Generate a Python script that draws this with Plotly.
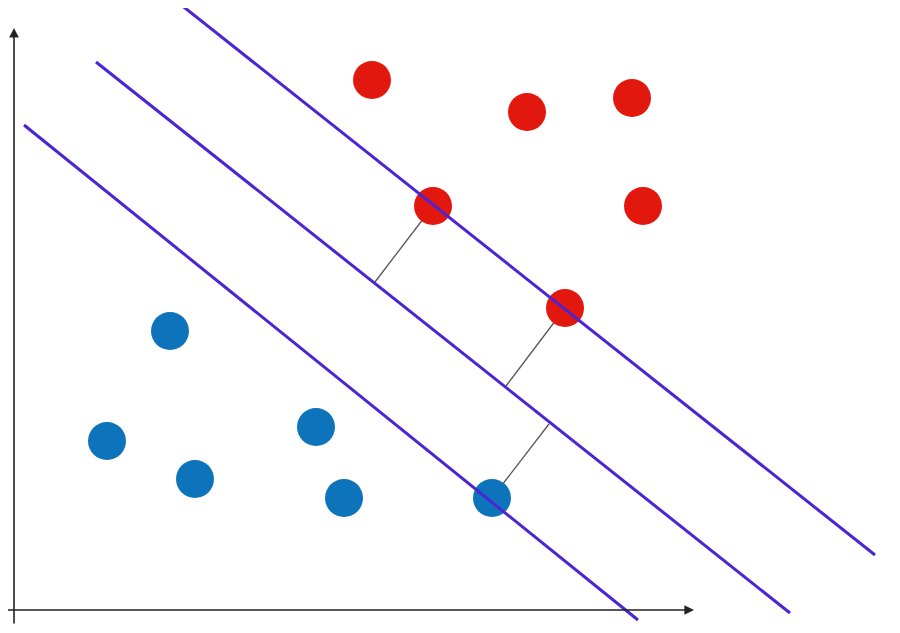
"""SVM margin sketch: two classes separated by a hyperplane with its two margin lines."""
import plotly.graph_objects as go

# class points (pixel-style coordinates, y grows downward)
red_x = [372, 527, 632, 643, 433, 565]
red_y = [80, 112, 98, 206, 206, 308]
blue_x = [170, 107, 195, 316, 344, 492]
blue_y = [331, 441, 479, 427, 498, 498]

# hyperplane + margins: [x0, x1], [y0, y1]
line_names = ["margin +", "hyperplane", "margin -"]
line_x = [[180, 875], [96, 790], [24, 638]]
line_y = [[4, 555], [62, 613], [125, 620]]

# support-vector distance connectors
conn_x = [[433, 375], [565, 506], [492, 549]]
conn_y = [[206, 282], [308, 386], [498, 424]]

fig = go.Figure()

for cx, cy in zip(conn_x, conn_y):
    fig.add_trace(go.Scatter(x=cx, y=cy, mode="lines",
                             line=dict(color="#555555", width=1.3), hoverinfo="skip"))

fig.add_trace(go.Scatter(x=red_x, y=red_y, mode="markers", name="class +1",
                         marker=dict(size=38, color="#e2180f", line=dict(width=0))))
fig.add_trace(go.Scatter(x=blue_x, y=blue_y, mode="markers", name="class -1",
                         marker=dict(size=38, color="#0d74bb", line=dict(width=0))))

for name, lx, ly in zip(line_names, line_x, line_y):
    fig.add_trace(go.Scatter(x=lx, y=ly, mode="lines", name=name,
                             line=dict(color="#4b24d4", width=3)))

# axes with arrowheads
fig.add_annotation(x=14, y=28, ax=14, ay=625, xref="x", yref="y", axref="x", ayref="y",
                   text="", showarrow=True, arrowhead=2, arrowsize=1.2,
                   arrowwidth=1.6, arrowcolor="#222222")
fig.add_annotation(x=694, y=610, ax=0, ay=610, xref="x", yref="y", axref="x", ayref="y",
                   text="", showarrow=True, arrowhead=2, arrowsize=1.2,
                   arrowwidth=1.6, arrowcolor="#222222")

# page body has an 8px margin, so offset the ranges to keep pixel alignment
fig.update_layout(
    width=900, height=633,
    margin=dict(l=0, r=0, t=0, b=0),
    paper_bgcolor="white", plot_bgcolor="white",
    showlegend=False,
    xaxis=dict(range=[8, 908], visible=False, fixedrange=True),
    yaxis=dict(range=[641, 8], visible=False, fixedrange=True),
)

fig.write_html("out.html")
